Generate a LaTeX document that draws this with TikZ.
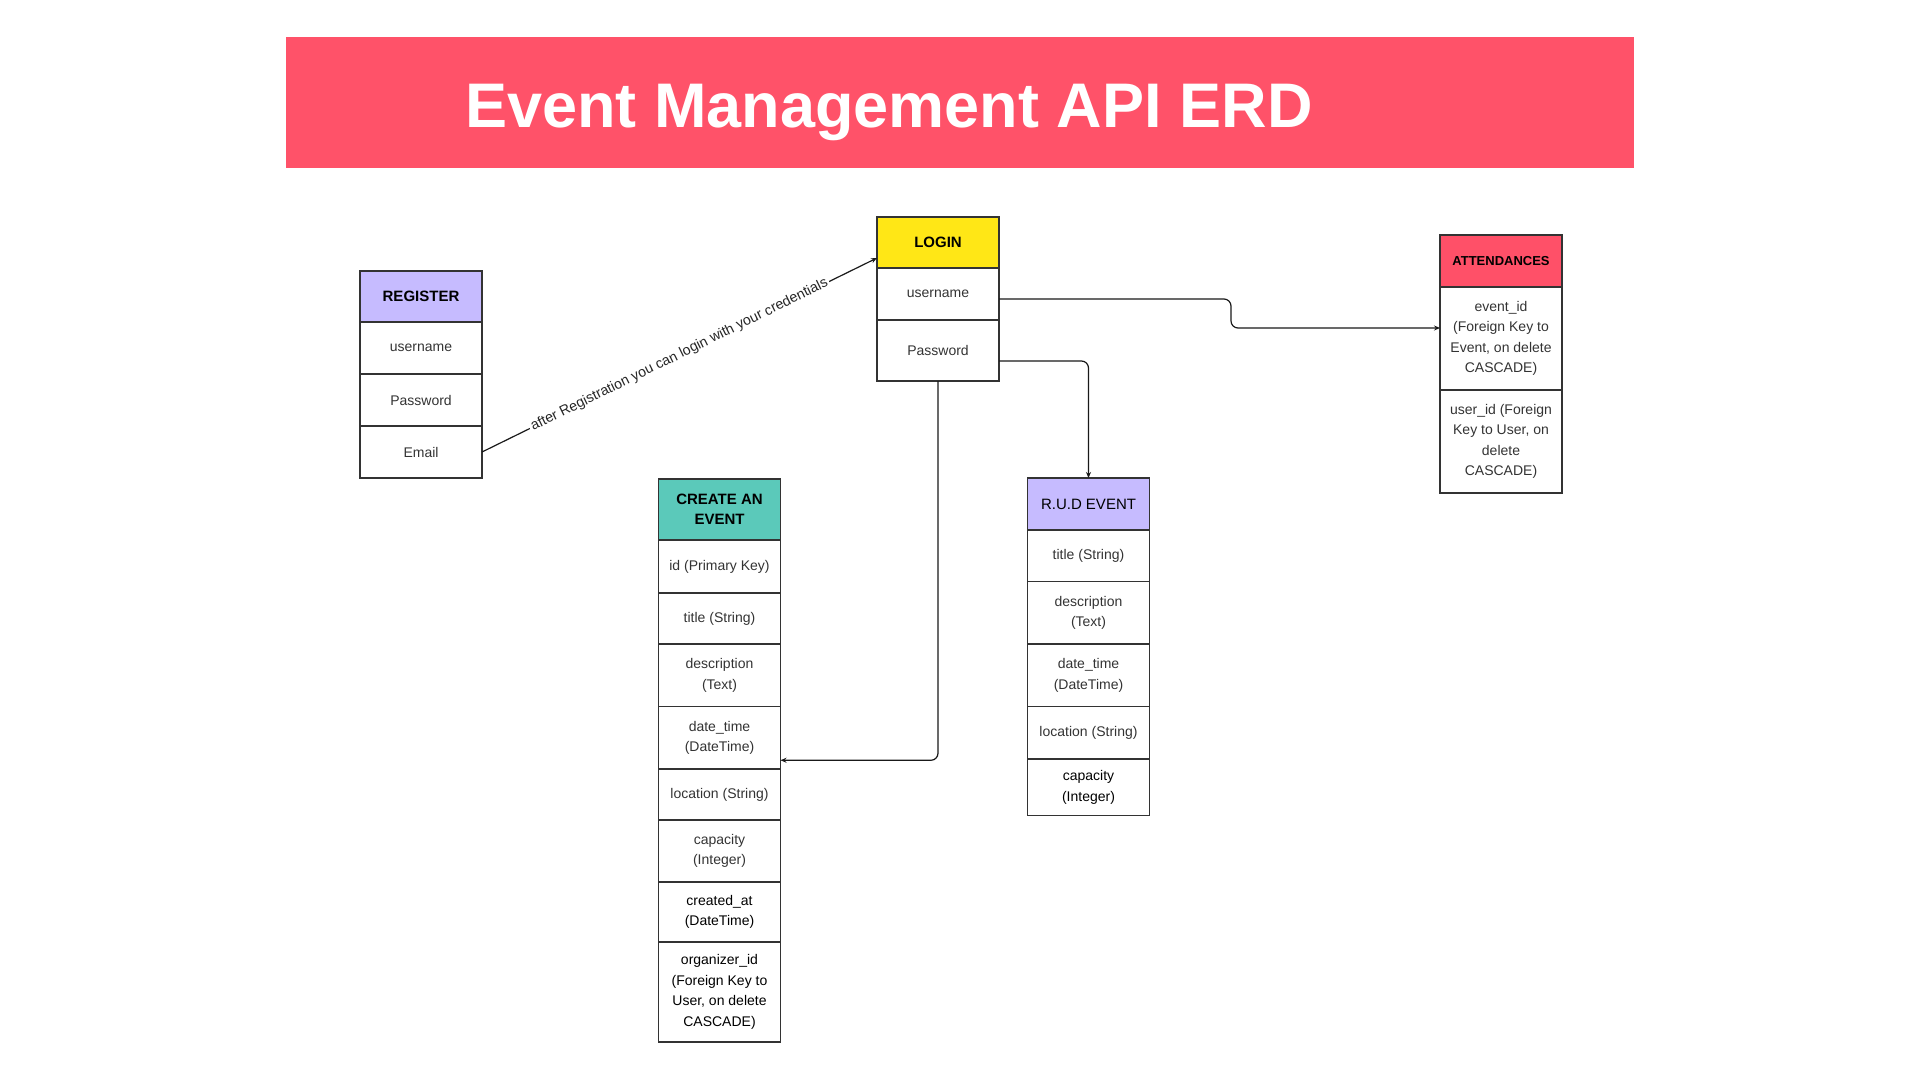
\documentclass[tikz,border=0pt]{standalone}
\usepackage{fontspec}
\setmainfont{Liberation Sans}
\usetikzlibrary{positioning,arrows.meta}
\definecolor{bannerred}{HTML}{FF5269}
\definecolor{lavender}{HTML}{C6BBFF}
\definecolor{loginyellow}{HTML}{FFE716}
\definecolor{tealhead}{HTML}{5BC9BA}
\definecolor{attred}{HTML}{FF5068}
\tikzset{
  cell/.style={draw=black!80, line width=1.1pt, minimum width=122pt, inner sep=2pt, outer sep=0pt,
    align=center, text=black!80, font=\fontsize{14}{20.5}\selectfont},
  darkcell/.style={cell, text=black},
  headcell/.style={cell, text=black, font=\fontsize{15}{20.5}\selectfont\bfseries},
  link/.style={draw=black!90, line width=1.2pt, rounded corners=7pt, -{Stealth[length=6pt,width=5pt]}},
}

\begin{document}
\begin{tikzpicture}[x=1pt,y=-1pt]
			\useasboundingbox (0,0) rectangle (1920,1080);
			
			%%%%% TITLE %%%%%
			\fill[bannerred] (286,37) rectangle (1634,168);
			\node[anchor=base, text=white, font=\fontsize{63}{70}\selectfont\bfseries] (title) at (889,127) {Event Management API ERD};
			
			%%%%% REGISTER %%%%%
			\node[headcell, fill=lavender, minimum height=51pt] (reghead) at (421,296.5) {REGISTER};
			\node[cell, minimum height=52pt, below=0pt of reghead] (reguser) {username};
			\node[cell, minimum height=52pt, below=0pt of reguser] (regpass) {Password};
			\node[cell, minimum height=52pt, below=0pt of regpass] (regmail) {Email};
			
			%%%%% LOGIN %%%%%
			\node[headcell, fill=loginyellow, minimum height=51pt] (loghead) at (938,242.5) {LOGIN};
			\node[cell, minimum height=52pt, below=0pt of loghead] (loguser) {username};
			\node[cell, minimum height=61pt, below=0pt of loguser] (logpass) {Password};
			
			%%%%% ATTENDANCES %%%%%
			\node[headcell, fill=attred, minimum height=52pt, font=\fontsize{13}{18}\selectfont\bfseries] (atthead) at (1501,261) {ATTENDANCES};
			\node[cell, minimum height=103pt, below=0pt of atthead] (attevent) {event\_id\\(Foreign Key to\\Event, on delete\\CASCADE)};
			\node[cell, minimum height=103pt, below=0pt of attevent] (attuser) {user\_id (Foreign\\Key to User, on\\delete\\CASCADE)};
			
			%%%%% CREATE AN EVENT %%%%%
			\node[headcell, fill=tealhead, minimum height=61pt] (crehead) at (719.5,509.5) {CREATE AN\\EVENT};
			\node[cell, minimum height=53pt, below=0pt of crehead] (creid) {id (Primary Key)};
			\node[cell, minimum height=51pt, below=0pt of creid] (cretitle) {title (String)};
			\node[cell, minimum height=62.5pt, below=0pt of cretitle] (credesc) {description\\(Text)};
			\node[cell, minimum height=62.5pt, below=0pt of credesc] (credate) {date\_time\\(DateTime)};
			\node[cell, minimum height=51pt, below=0pt of credate] (creloc) {location (String)};
			\node[cell, minimum height=62pt, below=0pt of creloc] (crecap) {capacity\\(Integer)};
			\node[darkcell, minimum height=60pt, below=0pt of crecap] (crecreated) {created\_at\\(DateTime)};
			\node[darkcell, minimum height=100pt, below=0pt of crecreated] (creorg) {organizer\_id\\(Foreign Key to\\User, on delete\\CASCADE)};
			
			%%%%% R.U.D EVENT %%%%%
			\node[headcell, fill=lavender, minimum height=52pt, font=\fontsize{15}{20.5}\selectfont] (rudhead) at (1088.5,504) {R.U.D EVENT};
			\node[cell, minimum height=51.5pt, below=0pt of rudhead] (rudtitle) {title (String)};
			\node[cell, minimum height=62.5pt, below=0pt of rudtitle] (ruddesc) {description\\(Text)};
			\node[cell, minimum height=62.5pt, below=0pt of ruddesc] (ruddate) {date\_time\\(DateTime)};
			\node[cell, minimum height=52.5pt, below=0pt of ruddate] (rudloc) {location (String)};
			\node[darkcell, minimum height=56.5pt, below=0pt of rudloc] (rudcap) {capacity\\(Integer)};
			
			%%%%% LINKS %%%%%
			\coordinate (logentry) at ([yshift=-15.5pt]loghead.west);
			\coordinate (attentry) at ([yshift=10.5pt]attevent.west);
			\coordinate (attbend) at (1231,313);
			\coordinate (creentry) at ([yshift=-22.5pt]credate.east);
			
			\draw[link] (regmail.east) -- node[midway, sloped, fill=white, inner sep=2pt, text=black!85,
				font=\fontsize{14.2}{16}\selectfont] (regnote) {after Registration you can login with your credentials} (logentry);
			\draw[link] ([yshift=-5pt]loguser.east) -| (attbend) |- (attentry);
			\draw[link] ([yshift=-10.5pt]logpass.east) -| (rudhead.north);
			\draw[link] (logpass.south) |- (creentry);
			
		\end{tikzpicture}
\end{document}
